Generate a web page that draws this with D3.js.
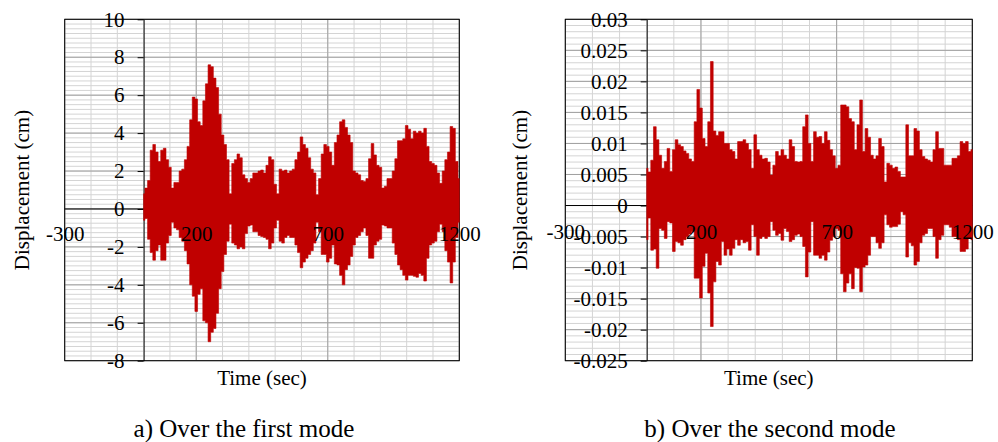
<!DOCTYPE html>
<html>
<head>
<meta charset="utf-8">
<script src="https://cdn.jsdelivr.net/npm/d3@7"></script>
<style>
  body { margin: 0; background: #fff; }
  svg { display: block; font-family: "Liberation Serif", "Times New Roman", serif; }
</style>
</head>
<body>
<svg width="998" height="442"></svg>
<script>
// sample times (sec), one upper and one lower peak read per step
let sampleStep = 10
let timeValues = d3.range(0, 1201, sampleStep)

let firstUpper = [
  0.8, 1.1, 1.5, 3.1, 3.4, 3.0, 2.5, 3.1, 3.2, 2.6,
  2.2, 1.1, 1.4, 1.4, 2.0, 2.1, 2.6, 3.3, 4.7, 5.9,
  5.8, 4.6, 4.4, 5.7, 6.6, 7.6, 7.5, 6.9, 6.4, 5.0,
  3.9, 3.4, 2.6, 0.8, 2.4, 2.6, 2.9, 2.7, 1.8, 1.6,
  1.4, 1.6, 1.9, 1.9, 2.0, 2.05, 1.9, 2.3, 2.75, 2.6,
  1.3, 0.8, 2.1, 2.0, 2.05, 1.9, 2.0, 2.1, 2.6, 3.0,
  3.8, 3.4, 3.2, 2.7, 2.1, 1.9, 0.75, 1.6, 2.9, 3.4,
  3.3, 3.0, 2.3, 3.5, 3.9, 4.6, 4.7, 4.3, 3.9, 3.5,
  2.0, 1.9, 1.8, 1.5, 1.45, 1.6, 2.65, 3.45, 2.85, 2.3,
  2.2, 1.1, 1.2, 1.6, 1.6, 2.0, 2.65, 3.6, 3.6, 3.7,
  4.4, 4.2, 3.7, 4.1, 4.0, 4.1, 4.0, 4.25, 3.3, 2.5,
  2.4, 2.3, 1.9, 1.35, 2.0, 2.6, 3.0, 4.35, 4.25, 2.5,
  1.6
]
let firstLower = [
  -0.6, -0.5, -1.6, -2.3, -2.7, -2.2, -1.9, -2.7, -2.7, -1.8,
  -1.4, -0.7, -1.0, -1.1, -1.5, -1.7, -2.2, -2.9, -4.0, -4.6,
  -5.4, -4.5, -4.2, -5.9, -6.0, -7.0, -6.5, -6.3, -5.5, -4.2,
  -3.3, -2.4, -1.7, -0.8, -1.8, -1.9, -2.1, -2.0, -2.1, -1.3,
  -0.9, -0.85, -1.2, -1.2, -1.4, -1.45, -1.5, -1.6, -2.1, -1.8,
  -1.0, -0.6, -1.7, -1.8, -1.5, -1.4, -1.5, -1.5, -1.9, -2.3,
  -3.1, -2.8, -2.6, -2.4, -2.2, -1.8, -0.7, -1.2, -2.4, -2.4,
  -2.8, -2.6, -1.9, -2.9, -2.95, -3.5, -4.0, -3.2, -2.95, -2.5,
  -1.9, -1.5, -1.4, -1.2, -1.0, -1.4, -2.6, -2.6, -1.9, -1.7,
  -1.6, -0.85, -0.9, -1.0, -1.0, -1.8, -2.4, -2.95, -3.2, -3.5,
  -3.75, -3.5, -3.5, -3.55, -3.6, -3.4, -3.5, -3.8, -2.6, -1.9,
  -1.8, -1.7, -1.2, -0.8, -1.2, -2.2, -2.8, -3.9, -2.8, -1.5,
  -0.7
]

let secondUpper = [
  0.0060, 0.0054, 0.0073, 0.0127, 0.0106, 0.0081, 0.0060, 0.0071, 0.0092, 0.0055,
  0.0090, 0.0106, 0.0098, 0.0095, 0.0088, 0.0084, 0.0075, 0.0071, 0.0135, 0.0187,
  0.0157, 0.0108, 0.0095, 0.0135, 0.0232, 0.0120, 0.0113, 0.0119, 0.0119, 0.0100,
  0.0100, 0.0090, 0.0087, 0.0075, 0.0103, 0.0103, 0.0106, 0.0100, 0.0090, 0.0060,
  0.0114, 0.0090, 0.0081, 0.0075, 0.0076, 0.0070, 0.0049, 0.0065, 0.0087, 0.0080,
  0.0090, 0.0081, 0.0075, 0.0106, 0.0095, 0.0071, 0.0070, 0.0071, 0.0127, 0.0146,
  0.0100, 0.0071, 0.0119, 0.0110, 0.0111, 0.0100, 0.0119, 0.0105, 0.0090, 0.0080,
  0.0060, 0.0065, 0.0162, 0.0162, 0.0159, 0.0140, 0.0135, 0.0090, 0.0130, 0.0170,
  0.0087, 0.0124, 0.0110, 0.0081, 0.0075, 0.0080, 0.0108, 0.0095, 0.0038, 0.0068,
  0.0065, 0.0060, 0.0062, 0.0055, 0.0046, 0.0046, 0.0130, 0.0080, 0.0080, 0.0124,
  0.0120, 0.0090, 0.0079, 0.0075, 0.0073, 0.0070, 0.0090, 0.0119, 0.0092, 0.0092,
  0.0065, 0.0065, 0.0065, 0.0076, 0.0076, 0.0080, 0.0103, 0.0100, 0.0103, 0.0087,
  0.0090
]
let secondLower = [
  -0.0055, -0.0020, -0.0072, -0.0070, -0.0101, -0.0037, -0.0040, -0.0053, -0.0026, -0.0028,
  -0.0074, -0.0058, -0.0060, -0.0064, -0.0055, -0.0050, -0.0046, -0.0042, -0.0117, -0.0117,
  -0.0149, -0.0098, -0.0077, -0.0141, -0.0195, -0.0123, -0.0090, -0.0096, -0.0058, -0.0080,
  -0.0070, -0.0080, -0.0069, -0.0055, -0.0064, -0.0055, -0.0060, -0.0058, -0.0072, -0.0031,
  -0.0050, -0.0080, -0.0053, -0.0050, -0.0053, -0.0050, -0.0026, -0.0040, -0.0048, -0.0045,
  -0.0056, -0.0037, -0.0042, -0.0058, -0.0055, -0.0048, -0.0046, -0.0050, -0.0066, -0.0115,
  -0.0075, -0.0026, -0.0080, -0.0080, -0.0085, -0.0080, -0.0088, -0.0075, -0.0056, -0.0050,
  -0.0037, -0.0040, -0.0110, -0.0139, -0.0125, -0.0110, -0.0134, -0.0100, -0.0101, -0.0139,
  -0.0099, -0.0096, -0.0080, -0.0050, -0.0050, -0.0060, -0.0069, -0.0060, -0.0015, -0.0031,
  -0.0035, -0.0034, -0.0034, -0.0030, -0.0010, -0.0015, -0.0083, -0.0060, -0.0065, -0.0096,
  -0.0090, -0.0060, -0.0048, -0.0045, -0.0037, -0.0037, -0.0050, -0.0085, -0.0055, -0.0048,
  -0.0031, -0.0031, -0.0035, -0.0050, -0.0050, -0.0055, -0.0074, -0.0074, -0.0070, -0.0053,
  -0.0055
]

let timeTicks = [-300, 200, 700, 1200]
let firstTicks = [-8, -6, -4, -2, 0, 2, 4, 6, 8, 10]
let secondTicks = [-0.025, -0.02, -0.015, -0.01, -0.005, 0, 0.005, 0.01, 0.015, 0.02, 0.025, 0.03]

let svg = d3.select('svg')
let red = '#c00000'

let drawPanel = (opt) => {
  let x = d3.scaleLinear().domain([-300, 1200]).range([opt.left, opt.right])
  let y = d3.scaleLinear().domain([opt.ticks[0], opt.ticks[opt.ticks.length - 1]]).range([opt.bottom, opt.top])
  let g = svg.append('g')

  // minor grid
  let minorCount = Math.round((y.domain()[1] - y.domain()[0]) / opt.minor)
  let minorY = d3.range(0, minorCount + 1).map((i) => y.domain()[0] + i * opt.minor)
  g.selectAll('.hminor').data(minorY).enter().append('line')
    .attr('x1', opt.left).attr('x2', opt.right)
    .attr('y1', (d) => y(d)).attr('y2', (d) => y(d))
    .attr('stroke', '#d4d4d4').attr('stroke-width', 1)
  g.selectAll('.vminor').data(d3.range(-300, 1201, 100)).enter().append('line')
    .attr('x1', (d) => x(d)).attr('x2', (d) => x(d))
    .attr('y1', opt.top).attr('y2', opt.bottom)
    .attr('stroke', '#d4d4d4').attr('stroke-width', 1)

  // major grid
  g.selectAll('.hmajor').data(opt.ticks).enter().append('line')
    .attr('x1', opt.left).attr('x2', opt.right)
    .attr('y1', (d) => y(d)).attr('y2', (d) => y(d))
    .attr('stroke', '#a0a0a0').attr('stroke-width', 1)
  g.selectAll('.vmajor').data(timeTicks).enter().append('line')
    .attr('x1', (d) => x(d)).attr('x2', (d) => x(d))
    .attr('y1', opt.top).attr('y2', opt.bottom)
    .attr('stroke', '#a0a0a0').attr('stroke-width', 1)

  // frame
  g.append('rect')
    .attr('x', opt.left).attr('y', opt.top)
    .attr('width', opt.right - opt.left).attr('height', opt.bottom - opt.top)
    .attr('fill', 'none').attr('stroke', '#000').attr('stroke-width', 1)

  // zero line, under the signal
  g.append('line')
    .attr('x1', opt.left).attr('x2', opt.right)
    .attr('y1', y(0)).attr('y2', y(0))
    .attr('stroke', '#000').attr('stroke-width', 1)

  // y axis at t = 0
  let yAxis = d3.axisLeft(y).tickValues(opt.ticks).tickSize(6).tickSizeOuter(0)
    .tickPadding(13).tickFormat((d) => String(+d.toFixed(3)))
  let ya = g.append('g').attr('transform', 'translate(' + x(0) + ',0)').call(yAxis)
  ya.attr('font-family', null).attr('font-size', 21)
  ya.selectAll('text').attr('fill', '#000')

  // signal envelope: upper and lower peak per sample step
  let samples = timeValues.map((t, i) => ({ t: t, hi: opt.upper[i], lo: opt.lower[i] }))
  let area = d3.area()
    .x((d) => x(d.t))
    .y0((d) => y(d.lo))
    .y1((d) => y(d.hi))
    .curve(d3.curveStep)
  g.append('path')
    .datum(samples)
    .attr('d', area)
    .attr('fill', red)
    .attr('stroke', red)
    .attr('stroke-width', 0.6)

  // time labels sit on top of the signal
  let xAxis = d3.axisBottom(x).tickValues(timeTicks).tickSize(0).tickSizeOuter(0)
    .tickPadding(opt.xPad).tickFormat((d) => String(d))
  let xa = g.append('g').attr('transform', 'translate(0,' + y(0) + ')').call(xAxis)
  xa.select('.domain').remove()
  xa.attr('font-family', null).attr('font-size', 21)
  xa.selectAll('text').attr('fill', '#000')

  g.append('text')
    .attr('transform', 'translate(' + opt.titleX + ',' + ((opt.top + opt.bottom) / 2) + ') rotate(-90)')
    .attr('text-anchor', 'middle')
    .attr('font-size', 21)
    .text('Displacement (cm)')

  g.append('text')
    .attr('x', (opt.left + opt.right) / 2)
    .attr('y', 385)
    .attr('text-anchor', 'middle')
    .attr('font-size', 21)
    .text('Time (sec)')

  g.append('text')
    .attr('x', opt.captionX)
    .attr('y', 437)
    .attr('text-anchor', 'middle')
    .attr('font-size', 25)
    .text(opt.caption)
}

drawPanel({
  left: 64.7, right: 459.3, top: 19.3, bottom: 360.7,
  ticks: firstTicks, minor: 0.25,
  upper: firstUpper, lower: firstLower,
  xPad: 17, titleX: 29, captionX: 244,
  caption: 'a) Over the first mode'
})

drawPanel({
  left: 565.3, right: 972.3, top: 19.3, bottom: 360.7,
  ticks: secondTicks, minor: 0.001,
  upper: secondUpper, lower: secondLower,
  xPad: 19, titleX: 527, captionX: 770,
  caption: 'b) Over the second mode'
})
</script>
</body>
</html>
